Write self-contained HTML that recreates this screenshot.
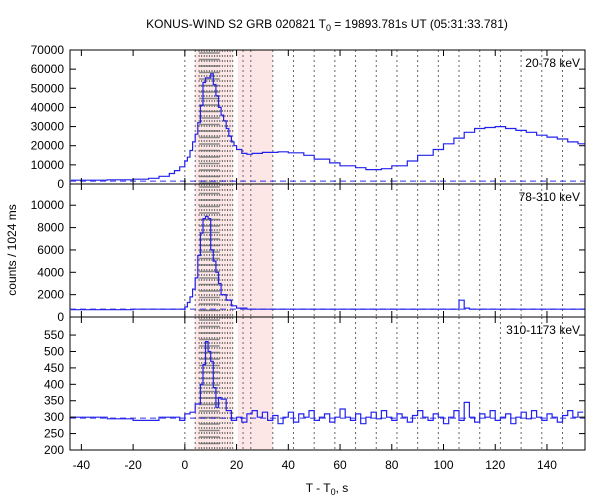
<!DOCTYPE html>
<html><head><meta charset="utf-8"><style>
html,body{margin:0;padding:0;background:#fff}
svg{display:block;font-family:"Liberation Sans","DejaVu Sans",sans-serif}
</style></head><body>
<svg id="chart" width="600" height="500" viewBox="0 0 600 500">
<text x="327" y="28" font-size="12" text-anchor="middle">KONUS-WIND S2 GRB 020821 T<tspan font-size="9" dy="3">0</tspan><tspan dy="-3"> = 19893.781s UT (05:31:33.781)</tspan></text>
<text transform="translate(16,250) rotate(-90)" font-size="12" text-anchor="middle">counts / 1024 ms</text>
<text x="327" y="492" font-size="12" text-anchor="middle">T - T<tspan font-size="9" dy="3">0</tspan><tspan dy="-3">, s</tspan></text>
</svg>
<script>
const xTicks=[-40,-20,0,20,40,60,80,100,120,140];
const markerTimes=[0,4,5.5,6.5,7.5,8.5,9.5,10.5,11.5,12.5,13.5,14.5,15.5,16.5,17.5,18.5,22.5,25.5,34,42,50,58,66,74,82,90,98,106,114,122,130,138,146];
const pinkRanges=[[4,18.6],[20.5,34]];
const hatchRange=[5.5,13.5];

const topEdges=[-44,-30,-20,-14,-10,-6,-4,-2,0,1,2,3,4,5,6,7,8,9,10,11,12,13,14,15,16,17,18,19,20,22,24,26,30,36,40,46,50,56,60,66,70,76,80,86,90,96,100,104,108,112,116,120,124,128,132,136,140,144,148,152,155];
const topValues=[2000,2200,2500,3000,4000,5500,7000,9000,12000,14000,17500,22000,26000,32000,41000,53000,55500,55500,57500,52000,46000,40000,36000,33000,29000,25000,22000,20000,18000,16000,15500,16000,16500,16800,16300,15000,13000,11000,9500,8500,7500,8000,9500,12000,15000,18000,21000,24000,27000,29000,29500,30000,29000,28000,27000,25500,24500,23500,22000,21000];
const topTicks=[0,10000,20000,30000,40000,50000,60000,70000];

const midEdges=[-44,-20,0,1,2,3,4,5,6,7,8,9,10,11,12,13,14,16,18,20,24,106,108,110,155];
const midValues=[650,700,900,1300,1800,2500,3500,5500,7500,8800,9000,8800,6000,5000,4000,3000,2000,1500,1000,800,700,1500,800,700];
const midTicks=[0,2000,4000,6000,8000,10000];

const botEdgesHead=[-44,-30,-20,-10,-2,0,2,4,6,7,8,9,10,11,12,13,14,16,18,20];
const botValues=[300,295,290,300,290,310,315,340,400,460,530,500,470,390,330,360,355,320,290,
300,285,310,320,300,315,290,305,280,300,315,285,310,300,320,290,300,310,285,300,325,300,290,310,280,300,315,295,320,300,290,310,300,285,305,320,300,290,310,300,280,300,320,290,345,300,285,310,300,320,290,300,310,280,300,315,295,320,300,290,310,300,285,305,320,300,315];
const botTicks=[200,250,300,350,400,450,500,550];

const NS='http://www.w3.org/2000/svg';
const svg=document.getElementById('chart');
const X0=70,X1=585,TMIN=-44.4,TMAX=154.7;
const xs=t=>X0+(t-TMIN)/(TMAX-TMIN)*(X1-X0);
function mk(tag,attrs,parent){const e=document.createElementNS(NS,tag);for(const k in attrs)e.setAttribute(k,attrs[k]);(parent||svg).appendChild(e);return e;}

const panels=[
 {name:'band-20-78',top:50,bot:184,min:0,max:70000,edges:topEdges,vals:topValues,ticks:topTicks,label:'20-78 keV',bg:1500},
 {name:'band-78-310',top:184,bot:317,min:0,max:11900,edges:midEdges,vals:midValues,ticks:midTicks,label:'78-310 keV',bg:700},
 {name:'band-310-1173',top:317,bot:450,min:200,max:605,edges:null,vals:botValues,ticks:botTicks,label:'310-1173 keV',bg:297}
];
const botEdges=botEdgesHead.slice();
for(let t=22;t<=154;t+=2)botEdges.push(t);
panels[2].edges=botEdges;

panels.forEach(p=>{
 const g=mk('g',{});
 
 
 const ys=v=>p.bot-(v-p.min)/(p.max-p.min)*(p.bot-p.top);
 pinkRanges.forEach(r=>{
  const rc=mk('rect',{x:xs(r[0]),y:p.top,width:xs(r[1])-xs(r[0]),height:p.bot-p.top,fill:'#fde6e6'},g);
  
  
 });
 for(let y=p.top+3;y<p.bot;y+=6.5){
  const h=mk('line',{x1:xs(hatchRange[0]),x2:xs(hatchRange[1]),y1:y,y2:y,stroke:'#888','stroke-width':1.6},g);
  
  
 }
 markerTimes.forEach(t=>{
  const l=mk('line',{x1:xs(t),x2:xs(t),y1:p.top,y2:p.bot,stroke:'#666','stroke-width':1,'stroke-dasharray':'2,3'},g);
  
  
 });
 const bl=mk('line',{x1:X0,x2:X1,y1:ys(p.bg),y2:ys(p.bg),stroke:'#3030e0','stroke-width':1,'stroke-dasharray':'6,4'},g);
 
 
 let d='';
 const n=Math.min(p.vals.length,p.edges.length-1);
 for(let i=0;i<n;i++){
  const x1=xs(Math.max(p.edges[i],TMIN)),x2=xs(Math.min(p.edges[i+1],TMAX)),y=ys(p.vals[i]);
  d+=(i===0?'M':'L')+x1.toFixed(1)+','+y.toFixed(1)+'L'+x2.toFixed(1)+','+y.toFixed(1);
 }
 const path=mk('path',{d:d,fill:'none',stroke:'#2222ee','stroke-width':1.2},g);
 
 
 const fr=mk('rect',{x:X0,y:p.top,width:X1-X0,height:p.bot-p.top,fill:'none',stroke:'#000','stroke-width':1},g);
 
 
 xTicks.forEach(t=>{
  mk('line',{x1:xs(t),x2:xs(t),y1:p.top,y2:p.top+6,stroke:'#000'},g);
  mk('line',{x1:xs(t),x2:xs(t),y1:p.bot,y2:p.bot-6,stroke:'#000'},g);
 });
 p.ticks.forEach(v=>{
  const y=ys(v);
  mk('line',{x1:X0,x2:X0+6,y1:y,y2:y,stroke:'#000'},g);
  mk('line',{x1:X1,x2:X1-6,y1:y,y2:y,stroke:'#000'},g);
  const tx=mk('text',{x:X0-6,y:y+4,'font-size':12,'text-anchor':'end'},g);
  tx.textContent=v;
  
  
 });
 const lb=mk('text',{x:X1-5,y:p.top+17,'font-size':12,'text-anchor':'end'},g);
 lb.textContent=p.label;
 
 
});
xTicks.forEach(t=>{
 const tx=mk('text',{x:xs(t),y:469,'font-size':12,'text-anchor':'middle'});
 tx.textContent=t;
 
 
});
</script>
</body></html>
